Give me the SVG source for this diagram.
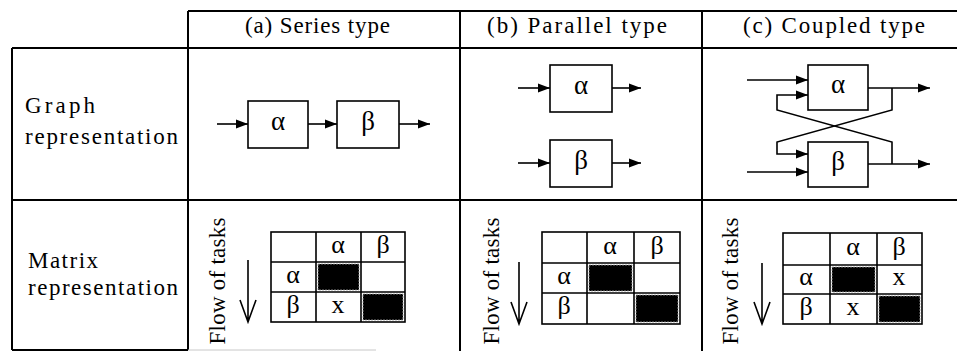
<svg xmlns="http://www.w3.org/2000/svg" width="957" height="351" viewBox="0 0 957 351" font-family="Liberation Serif, Times New Roman, serif">
  <style>
    .grid { stroke: #000; stroke-width: 2; fill: none; }
    .box { fill: #fff; stroke: #000; stroke-width: 1.6; }
    .wire { stroke: #000; stroke-width: 1.6; fill: none; }
    .cell { fill: none; stroke: #000; stroke-width: 1.6; }
    .dark { fill: #000; stroke: #9a9a9a; stroke-width: 0.8; stroke-dasharray: 2 1; }
    .hd { font-size: 23px; }
    .gk { font-size: 27px; text-anchor: middle; }
    .mk { font-size: 26px; text-anchor: middle; }
    .flow { font-size: 23px; text-anchor: middle; }
  </style>
  <defs>
    <marker id="ah" markerWidth="12" markerHeight="10" refX="12" refY="5" orient="auto" markerUnits="userSpaceOnUse">
      <path d="M0,0.5 L12,5 L0,9.5 z" fill="#000"/>
    </marker>
  </defs>

  <rect width="957" height="351" fill="#fff"/>

  <!-- table grid -->
  <g id="table">
    <path class="grid" d="M188,11 H957"/>
    <path class="grid" d="M12,48 H957"/>
    <path class="grid" d="M12,200 H957"/>
    <path class="grid" d="M12,48 V350"/>
    <path class="grid" d="M188,11 V350"/>
    <path class="grid" d="M460,11 V351"/>
    <path class="grid" d="M702,11 V351"/>
    <path class="grid" d="M12,350 H188"/>
    <path d="M188,350 H376" stroke="#c8c8c8" stroke-width="1" fill="none"/>
  </g>

  <!-- headers -->
  <g id="headers">
    <text class="hd" x="245" y="33" textLength="145" lengthAdjust="spacing">(a) Series type</text>
    <text class="hd" x="487" y="33" textLength="180" lengthAdjust="spacing">(b) Parallel type</text>
    <text class="hd" x="743" y="33" textLength="182" lengthAdjust="spacing">(c) Coupled type</text>
    <text class="hd" x="25" y="113" textLength="70" lengthAdjust="spacing">Graph</text>
    <text class="hd" x="25" y="144" textLength="153" lengthAdjust="spacing">representation</text>
    <text class="hd" x="28" y="268" textLength="70" lengthAdjust="spacing">Matrix</text>
    <text class="hd" x="28" y="295" textLength="150" lengthAdjust="spacing">representation</text>
  </g>

  <!-- (a) series graph -->
  <g id="series-alpha">
    <rect class="box" x="248" y="101" width="60" height="47"/>
    <text class="gk" x="278" y="130">α</text>
  </g>
  <g id="series-beta">
    <rect class="box" x="337" y="101" width="62" height="47"/>
    <text class="gk" x="368" y="130">β</text>
  </g>

  <!-- (b) parallel graph -->
  <g id="parallel-alpha">
    <rect class="box" x="550" y="65" width="62" height="47"/>
    <text class="gk" x="581" y="94">α</text>
  </g>
  <g id="parallel-beta">
    <rect class="box" x="550" y="140" width="62" height="47"/>
    <text class="gk" x="581" y="169">β</text>
  </g>

  <!-- (c) coupled graph -->
  <g id="coupled-alpha">
    <rect class="box" x="808" y="65" width="60" height="45"/>
    <text class="gk" x="838" y="93">α</text>
  </g>
  <g id="coupled-beta">
    <rect class="box" x="808" y="142" width="60" height="45"/>
    <text class="gk" x="838" y="170">β</text>
  </g>

  <!-- connectors -->
  <g id="connectors">
    <path class="wire" d="M217,124 H248" marker-end="url(#ah)"/>
    <path class="wire" d="M308,124 H337" marker-end="url(#ah)"/>
    <path class="wire" d="M399,124 H430" marker-end="url(#ah)"/>

    <path class="wire" d="M518,88 H550" marker-end="url(#ah)"/>
    <path class="wire" d="M612,88 H641" marker-end="url(#ah)"/>
    <path class="wire" d="M518,163 H550" marker-end="url(#ah)"/>
    <path class="wire" d="M612,163 H641" marker-end="url(#ah)"/>

    <path class="wire" d="M747,80 H808" marker-end="url(#ah)"/>
    <path class="wire" d="M747,172 H808" marker-end="url(#ah)"/>
    <path class="wire" d="M868,88 H930" marker-end="url(#ah)"/>
    <path class="wire" d="M868,164 H930" marker-end="url(#ah)"/>
    <path class="wire" d="M892,88 V110 L777,142 V154 H808" marker-end="url(#ah)"/>
    <path class="wire" d="M892,164 V142 L777,110 V95 H808" marker-end="url(#ah)"/>
  </g>

  <!-- (a) series matrix -->
  <g id="series-matrix">
    <text class="flow" transform="translate(225,281) rotate(-90)" textLength="127" lengthAdjust="spacing">Flow of tasks</text>
    <path class="wire" d="M248,260 V322 M240,300 L248,322 L256,300"/>
    <rect class="dark" x="318" y="264" width="41" height="26"/>
    <rect class="dark" x="363" y="294" width="40" height="26"/>
    <rect class="cell" x="271" y="232" width="134" height="90"/>
    <path class="cell" d="M316,232 V322 M361,232 V322 M271,262 H405 M271,292 H405"/>
    <text class="mk" x="338" y="253">α</text>
    <text class="mk" x="383" y="253">β</text>
    <text class="mk" x="293" y="283">α</text>
    <text class="mk" x="293" y="313">β</text>
    <text class="mk" x="338" y="313">x</text>
  </g>

  <!-- (b) parallel matrix -->
  <g id="parallel-matrix">
    <text class="flow" transform="translate(499,281) rotate(-90)" textLength="127" lengthAdjust="spacing">Flow of tasks</text>
    <path class="wire" d="M519,262 V324 M511,302 L519,324 L527,302"/>
    <rect class="dark" x="589" y="265" width="43" height="26"/>
    <rect class="dark" x="636" y="295" width="42" height="27"/>
    <rect class="cell" x="542" y="232" width="138" height="92"/>
    <path class="cell" d="M587,232 V324 M634,232 V324 M542,263 H680 M542,293 H680"/>
    <text class="mk" x="610" y="254">α</text>
    <text class="mk" x="657" y="254">β</text>
    <text class="mk" x="564" y="284">α</text>
    <text class="mk" x="564" y="314">β</text>
  </g>

  <!-- (c) coupled matrix -->
  <g id="coupled-matrix">
    <text class="flow" transform="translate(738,281) rotate(-90)" textLength="127" lengthAdjust="spacing">Flow of tasks</text>
    <path class="wire" d="M762,263 V324 M754,302 L762,324 L770,302"/>
    <rect class="dark" x="832" y="267" width="43" height="25"/>
    <rect class="dark" x="879" y="296" width="41" height="26"/>
    <rect class="cell" x="783" y="233" width="139" height="91"/>
    <path class="cell" d="M830,233 V324 M877,233 V324 M783,265 H922 M783,294 H922"/>
    <text class="mk" x="853" y="255">α</text>
    <text class="mk" x="899" y="255">β</text>
    <text class="mk" x="806" y="285">α</text>
    <text class="mk" x="899" y="285">x</text>
    <text class="mk" x="806" y="315">β</text>
    <text class="mk" x="853" y="315">x</text>
  </g>
</svg>
